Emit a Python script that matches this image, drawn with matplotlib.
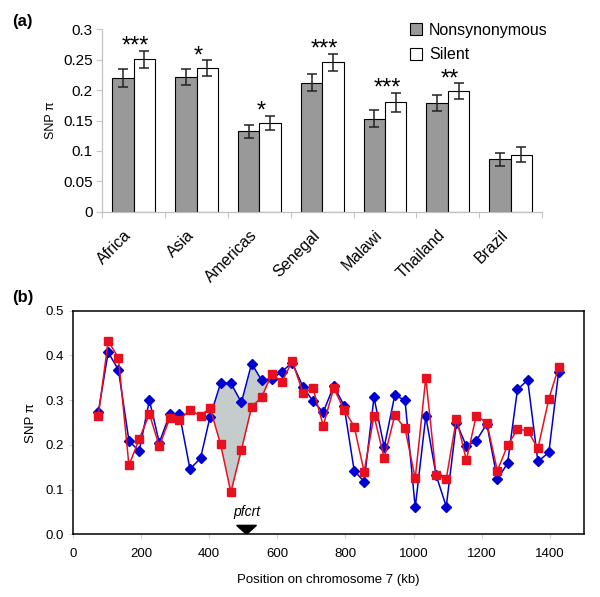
import numpy as np
import matplotlib
matplotlib.use('Agg')
import matplotlib.pyplot as plt
from matplotlib.patches import Patch, Polygon
from matplotlib.transforms import ScaledTranslation

plt.rcParams['font.family'] = ['Liberation Sans', 'DejaVu Sans']

# (a) SNP diversity per population
pops = ['Africa', 'Asia', 'Americas', 'Senegal', 'Malawi', 'Thailand', 'Brazil']
nonsyn = [0.220, 0.222, 0.132, 0.212, 0.153, 0.179, 0.086]
nonsyn_err = [0.015, 0.013, 0.011, 0.014, 0.014, 0.013, 0.011]
silent = [0.251, 0.236, 0.146, 0.246, 0.180, 0.198, 0.094]
silent_err = [0.014, 0.013, 0.012, 0.014, 0.016, 0.013, 0.012]
stars = ['***', '*', '*', '***', '***', '**', '']

# (b) sliding window along chromosome 7
pos_kb = [75, 104, 134, 165, 195, 225, 254, 285, 313, 344, 375, 403, 434, 464,
          495, 525, 554, 584, 614, 644, 676, 705, 735, 766, 796, 826, 855, 884,
          914, 945, 975, 1005, 1036, 1066, 1096, 1126, 1155, 1184, 1215, 1246,
          1276, 1305, 1335, 1365, 1397, 1426]
blue_pi = [0.273, 0.407, 0.368, 0.209, 0.186, 0.300, 0.205, 0.269, 0.270, 0.146,
           0.170, 0.263, 0.338, 0.338, 0.295, 0.382, 0.345, 0.347, 0.364, 0.384,
           0.329, 0.298, 0.273, 0.332, 0.288, 0.142, 0.118, 0.306, 0.195, 0.311,
           0.300, 0.060, 0.264, 0.133, 0.062, 0.250, 0.197, 0.209, 0.247, 0.123,
           0.159, 0.324, 0.345, 0.163, 0.183, 0.364]
red_pi = [0.265, 0.432, 0.395, 0.154, 0.213, 0.269, 0.197, 0.260, 0.256, 0.278,
          0.265, 0.283, 0.201, 0.094, 0.189, 0.285, 0.306, 0.358, 0.341, 0.387,
          0.316, 0.327, 0.243, 0.327, 0.279, 0.241, 0.140, 0.265, 0.171, 0.266,
          0.237, 0.125, 0.350, 0.133, 0.124, 0.259, 0.166, 0.265, 0.250, 0.142,
          0.199, 0.235, 0.232, 0.192, 0.303, 0.374]
pfcrt_kb = 510
shade_range = (390, 600)

fig = plt.figure(figsize=(6, 5.97), dpi=100)

# ---- panel (a)
ax1 = fig.add_axes([0.1705, 0.6454, 0.733, 0.3055])
x = np.arange(len(pops))
w = 0.34
ekw = dict(elinewidth=1.1, capthick=1.1, ecolor='#222222')
ax1.bar(x - w/2, nonsyn, w, yerr=nonsyn_err, capsize=3.5, color='#999999',
        edgecolor='black', linewidth=0.8, error_kw=ekw, label='Nonsynonymous')
ax1.bar(x + w/2, silent, w, yerr=silent_err, capsize=3.5, color='white',
        edgecolor='black', linewidth=0.8, error_kw=ekw, label='Silent')
for i in range(len(pops)):
    if stars[i]:
        ax1.text(x[i] + 0.03, silent[i] + silent_err[i] - 0.003, stars[i],
                 ha='center', va='baseline', fontsize=17)

ax1.set_xlim(-0.5, len(pops) - 0.5)
ax1.set_ylim(0, 0.3)
ax1.set_yticks(np.arange(0, 0.31, 0.05))
ax1.set_yticklabels(['0', '0.05', '0.1', '0.15', '0.2', '0.25', '0.3'])
ax1.set_xticks(x)
ax1.set_xticklabels(pops, rotation=45, ha='right', rotation_mode='anchor')
ax1.set_xticks(np.arange(-0.5, len(pops)), minor=True)
ax1.tick_params(axis='x', which='major', length=0, pad=10, labelsize=11.5)
ax1.tick_params(axis='x', which='minor', length=4, color='#c8c8c8', width=0.8)
ax1.tick_params(axis='y', length=4, color='#c8c8c8', width=0.8, labelsize=11, pad=3)
shift = ScaledTranslation(-0.1, -0.02, fig.dpi_scale_trans)
for lab in ax1.get_xticklabels():
    lab.set_transform(lab.get_transform() + shift)
for s in ['top', 'right']:
    ax1.spines[s].set_visible(False)
for s in ['left', 'bottom']:
    ax1.spines[s].set_color('#c0c0c0')
    ax1.spines[s].set_linewidth(0.9)
ax1.set_ylabel('SNP π', fontsize=9, labelpad=4)

handles = [Patch(facecolor='#999999', edgecolor='black', linewidth=0.8),
           Patch(facecolor='white', edgecolor='black', linewidth=0.8)]
ax1.legend(handles, ['Nonsynonymous', 'Silent'], loc='upper left',
           bbox_to_anchor=(0.668, 1.115), frameon=False, fontsize=11.5,
           handlelength=0.75, handleheight=0.75, handletextpad=0.4,
           labelspacing=0.6)

fig.text(0.02, 0.964, '(a)', fontsize=12, fontweight='bold', va='center')

# ---- panel (b)
ax2 = fig.add_axes([0.1212, 0.105, 0.852, 0.3745])
xp = np.array(pos_kb)
bp = np.array(blue_pi)
rp = np.array(red_pi)
mask = (bp > rp) & (xp > shade_range[0]) & (xp < shade_range[1])
ax2.fill_between(xp, rp, bp, where=mask, interpolate=True, color='#c4cccc',
                 linewidth=0, zorder=1)
ax2.plot(xp, bp, color='#0000d0', marker='D', markersize=4.8, linewidth=1.1,
         zorder=2)
ax2.plot(xp, rp, color='#e8101f', marker='s', markersize=5.5, linewidth=1.1,
         zorder=3)

tri_w, tri_h = 29, 0.02
ax2.add_patch(Polygon([(pfcrt_kb - tri_w, tri_h), (pfcrt_kb + tri_w, tri_h),
                       (pfcrt_kb, 0)], closed=True, color='black', zorder=4))
ax2.text(pfcrt_kb, 0.034, 'pfcrt', style='italic', ha='center', va='bottom',
         fontsize=10)

ax2.set_xlim(0, 1500)
ax2.set_ylim(0, 0.5)
ax2.set_xticks(np.arange(0, 1401, 200))
ax2.set_yticks(np.arange(0, 0.51, 0.1))
ax2.set_yticklabels(['%.1f' % v for v in np.arange(0, 0.51, 0.1)])
ax2.tick_params(axis='both', length=3, color='#d0d0d0', labelsize=9.5)
ax2.tick_params(axis='x', pad=7)
for s in ax2.spines.values():
    s.set_linewidth(1.1)
ax2.set_xlabel('Position on chromosome 7 (kb)', fontsize=9.5, labelpad=10)
ax2.set_ylabel('SNP π', fontsize=9.5, labelpad=6)

fig.text(0.02, 0.502, '(b)', fontsize=12, fontweight='bold', va='center')

fig.savefig('out.png', dpi=100)
